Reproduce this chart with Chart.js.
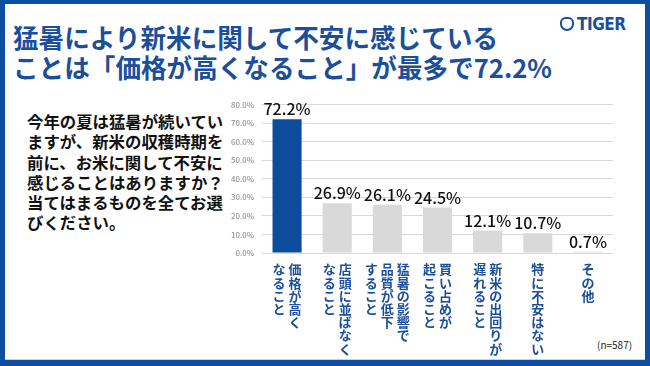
<!DOCTYPE html>
<html lang="ja">
<head>
<meta charset="utf-8">
<script src="https://cdn.jsdelivr.net/npm/chart.js@4/dist/chart.umd.min.js"></script>
<style>
  html, body { margin: 0; padding: 0; }
  body { width: 650px; height: 366px; position: relative; overflow: hidden; background: #fff;
         font-family: "Noto Sans CJK JP", "Noto Sans", sans-serif; }
  .frame { position: absolute; left: 0; top: 0; width: 650px; height: 366px; box-sizing: border-box;
           border-style: solid; border-color: #0c4ea0; border-width: 4px 5px 6px 5px; }
  .frame::after { content: ""; position: absolute; left: 0; right: 0; bottom: 0; height: 1px; background: #c9ced8; }
  .title { position: absolute; left: 13px; top: 22px; margin: 0; color: #1b4e9b;
           font-size: 25.6px; line-height: 30px; font-weight: bold; letter-spacing: 0; white-space: nowrap; }
  .logo { position: absolute; left: 560px; top: 15px; height: 18px; display: flex; align-items: center; color: #1b4e9b; }
  .logo .icon { width: 14px; height: 14px; border: 2px solid #1b4e9b; border-radius: 40% 40% 50% 50%; box-sizing: border-box; margin-right: 3px; }
  .logo .name { font-family: "DejaVu Sans", sans-serif; font-weight: bold; font-size: 17px; letter-spacing: -0.5px; transform: scaleX(0.9); transform-origin: left center; }
  .question { position: absolute; left: 27px; top: 111px; margin: 0; color: #111;
              font-size: 16.4px; line-height: 20.3px; font-weight: bold; white-space: nowrap; }
  .note { position: absolute; left: 597px; top: 337px; font-size: 10px; color: #222; }
  .chart-box { position: absolute; left: 222px; top: 92px; width: 398px; height: 274px; }
</style>
</head>
<body>
<div class="frame"></div>
<h1 class="title">猛暑により新米に関して不安に感じている<br>ことは「価格が高くなること」が最多で72.2%</h1>
<div class="logo"><span class="icon"></span><span class="name">TIGER</span></div>
<p class="question">今年の夏は猛暑が続いてい<br>ますが、新米の収穫時期を<br>前に、お米に関して不安に<br>感じることはありますか？<br>当てはまるものを全てお選<br>びください。</p>
<div class="note">(n=587)</div>
<div class="chart-box"><canvas id="chart"></canvas></div>
<script>
// categories: each one is a list of vertical columns, read right to left
const categories = [
    ['価格が高く', 'なること'],
    ['店頭に並ばなく', 'なること'],
    ['猛暑の影響で', '品質が低下', 'すること'],
    ['買い占めが', '起こること'],
    ['新米の出回りが', '遅れること'],
    ['特に不安はない'],
    ['その他']
];
const shares = [72.2, 26.9, 26.1, 24.5, 12.1, 10.7, 0.7];
const yTicks = [0, 10, 20, 30, 40, 50, 60, 70, 80];

const BLUE = '#0c4c9c';
const GREY = '#d9d9d9';
const LABEL_BLUE = '#1b4e9b';
const COL_GAP = 16;
const CHAR_STEP = 13.2;

// value labels above each bar
const valueLabels = {
    id: 'valueLabels',
    afterDatasetsDraw(chart) {
        const ctx = chart.ctx;
        const meta = chart.getDatasetMeta(0);
        ctx.save();
        ctx.font = '500 16px "Noto Sans CJK JP", sans-serif';
        ctx.fillStyle = '#111';
        ctx.textAlign = 'center';
        ctx.textBaseline = 'alphabetic';
        meta.data.forEach(function(bar, i) {
            ctx.fillText(shares[i].toFixed(1) + '%', bar.x, bar.y - 4);
        });
        ctx.restore();
    }
};

// vertical (tategaki) category labels under the axis
const verticalLabels = {
    id: 'verticalLabels',
    afterDraw(chart) {
        const ctx = chart.ctx;
        const xScale = chart.scales.x;
        const top = chart.chartArea.bottom + 10;
        ctx.save();
        ctx.font = 'bold 13px "Noto Sans CJK JP", sans-serif';
        ctx.fillStyle = LABEL_BLUE;
        ctx.textAlign = 'center';
        ctx.textBaseline = 'top';
        categories.forEach(function(cols, i) {
            const cx = xScale.getPixelForTick(i);
            cols.forEach(function(col, j) {
                const colX = cx + (cols.length - 1) / 2 * COL_GAP - j * COL_GAP;
                Array.from(col).forEach(function(ch, k) {
                    ctx.fillText(ch, colX, top + k * CHAR_STEP);
                });
            });
        });
        ctx.restore();
    }
};

new Chart(document.getElementById('chart'), {
    type: 'bar',
    data: {
        labels: categories,
        datasets: [{
            data: shares,
            backgroundColor: shares.map(function(v, i) { return i === 0 ? BLUE : GREY; }),
            borderWidth: 0,
            barPercentage: 0.58,
            categoryPercentage: 1.0
        }]
    },
    options: {
        responsive: true,
        maintainAspectRatio: false,
        animation: false,
        layout: { padding: { top: 2, right: 7, bottom: 105, left: 0 } },
        plugins: { legend: { display: false }, tooltip: { enabled: false } },
        scales: {
            x: {
                ticks: { display: false },
                grid: { display: false },
                border: { display: false }
            },
            y: {
                min: 0,
                max: 80,
                afterFit: function(scale) { scale.width = 40; },
                afterBuildTicks: function(scale) { scale.ticks = yTicks.map(function(v) { return { value: v }; }); },
                ticks: {
                    padding: 8,
                    color: '#808080',
                    font: { size: 8, family: '"Noto Sans CJK JP", sans-serif' },
                    callback: function(v) { return v.toFixed(1) + '%'; }
                },
                grid: { color: GREY, lineWidth: 1, drawTicks: false },
                border: { display: false }
            }
        }
    },
    plugins: [valueLabels, verticalLabels]
});
</script>
</body>
</html>
